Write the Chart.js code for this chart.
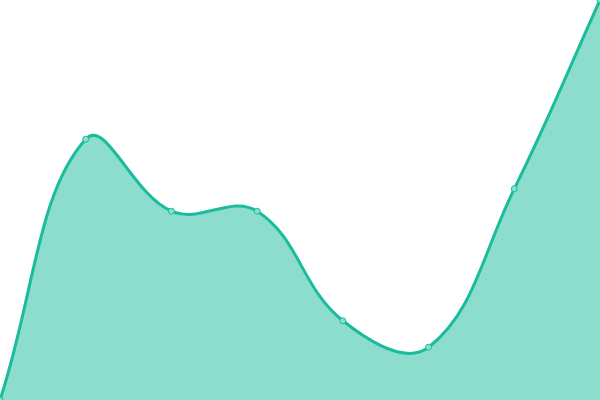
<!DOCTYPE html>
<html>
<head>
<meta charset="utf-8">
<script src="https://cdn.jsdelivr.net/npm/chart.js@4"></script>
<style>
html,body{margin:0;padding:0;background:#fff;}
#wrap{width:600px;height:400px;}
</style>
</head>
<body>
<div id="wrap"><canvas id="c"></canvas></div>
<script>
const labels = ["1","2","3","4","5","6","7","8"];
const values = [10, 75.2, 57.2, 57.2, 29.8, 23.2, 62.8, 110];

new Chart(document.getElementById('c'), {
  type: 'line',
  data: {
    labels: labels,
    datasets: [{
      data: values,
      borderColor: '#1abc9c',
      backgroundColor: 'rgba(26,188,156,0.5)',
      borderWidth: 3,
      fill: 'start',
      tension: 0.4,
      pointRadius: 3,
      pointBorderWidth: 1,
      pointBackgroundColor: '#8ae0d0',
      pointBorderColor: '#1abc9c'
    }]
  },
  options: {
    responsive: true,
    maintainAspectRatio: false,
    animation: false,
    layout: { padding: 0, autoPadding: false },
    plugins: { legend: { display: false }, tooltip: { enabled: false } },
    scales: {
      x: { display: false },
      y: { display: false }
    }
  }
});
</script>
</body>
</html>
